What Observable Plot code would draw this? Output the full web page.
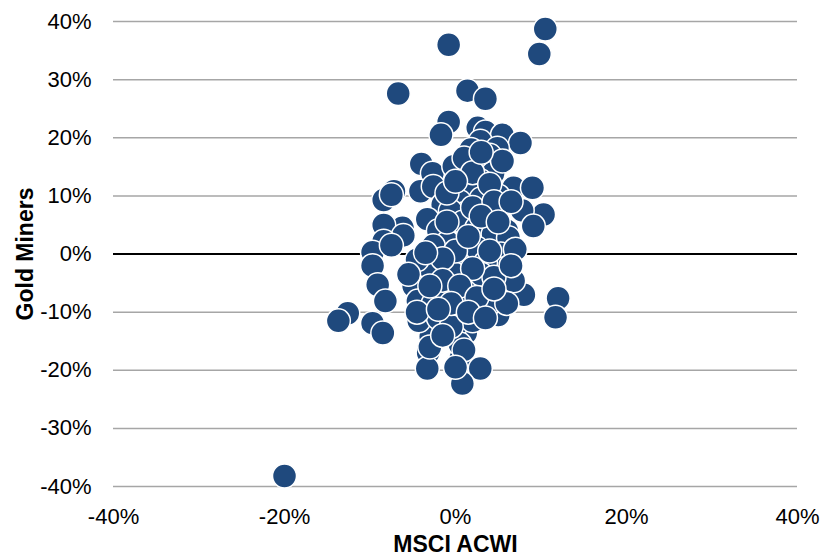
<!DOCTYPE html>
<html>
<head>
<meta charset="utf-8">
<script src="https://cdn.jsdelivr.net/npm/d3@7"></script>
<script src="https://cdn.jsdelivr.net/npm/@observablehq/plot@0.6"></script>
<style>
  body { margin: 0; background: #fff; }
  #chart { width: 827px; height: 556px; }
  g[aria-label="x-axis label"] text, g[aria-label="y-axis label"] text { font-weight: bold; font-size: 23px; }
</style>
</head>
<body>
<div id="chart"></div>
<script>
// MSCI ACWI monthly return (%)
const msciAcwi = [
  10.5, 9.8, -0.8, -6.7, 1.4, 3.5,
  -0.8, -1.7, 2.6, 3.5, 5.5, 7.6, 2.9, 4.9, 1.8, 4.0,
  -4.0, -2.7, -0.2, 3.3, 4.4, 2.9, 1.4, -7.2, -8.4, -4.1, -2.6, 6.8, 9.0, -7.5, 3.0, 5.0, 0.5, -1.5,
  10.3, 7.8, 4.9, 0.9, 4.1, -3.3, -6.2, -8.4, -0.6, 9.1, 0.9, 2.5, 6.0, -2.0, 3.5,
  4.4, 6.2, -0.9, -2.6, -6.1, -8.4, -9.7, -9.7, -7.5, 1.4, 5.3, 5.6, -0.2, -2.9, 2.5, 0.0, -4.5, 3.5, 7.0, -1.5, -3.5,
  -9.1, -4.9, 2.1, 3.7, 8.0, 6.8, -8.2, -4.4, -2.6, 0.4, 5.0, -12.6, -13.7, -9.7, -8.5, -2.9, 1.2, -4.3, 0.2, -3.2, 0.6, -3.3, 2.9, 0.8, 12.0, 11.7, -20.0,
  -1.0, 1.5, 4.0, -2.0, 2.0, -3.0, 0.5, -4.5, 6.0, 3.0, -1.5, 4.5, -0.5, 1.0,
  1.0, 2.0, 4.0, 5.5, 3.0, 2.0, 4.5, -1.0, 0.0, 6.5, 1.5, 3.0, 5.0, -1.0,
  2.0, 4.0, 0.5, -3.0, 2.5, -0.5, -2.0, 1.5, 3.5, -1.5, 0.0, 4.5, 6.5, -5.5
];
// Gold Miners monthly return (%)
const goldMiners = [
  38.7, 34.4, 36.0, 27.6, 28.1, 26.7,
  22.7, 20.5, 21.7, 21.0, 20.5, 19.1, 19.4, 18.2, 18.0, 17.0,
  15.5, 13.9, 15.1, 15.1, 13.9, 12.6, 10.8, 10.8, 9.3, 10.8, 11.6, 11.4, 11.4, 10.2, 9.5, 10.0, 9.0, 8.5,
  6.8, 7.5, 7.9, 6.9, 6.2, 6.0, 4.5, 5.0, 7.4, 4.8, 5.5, 4.5, 4.0, 4.0, 3.0,
  3.4, 2.8, 2.0, 1.4, 3.2, 2.2, 0.3, -2.0, 1.5, -0.5, 0.0, -2.6, -3.4, -2.6, 1.0, 0.5, -1.0, -1.5, 0.8, -0.8, 0.2,
  -5.3, -5.5, -5.3, -6.9, -7.0, -4.6, -8.1, -8.1, -8.5, -9.8, -10.5, -10.2, -11.5, -11.9, -13.6, -14.2, -13.6, -11.5, -12.0, -17.0, -18.0, -19.7, -19.7, -22.3, -7.6, -10.9, -38.2,
  -6.5, -8.0, -8.5, -11.0, -11.5, -16.0, -15.5, -10.0, -8.5, -3.5, -4.5, -4.0, -12.5, -16.5,
  16.5, 14.0, 12.0, 16.0, 17.5, 8.0, 9.0, 10.5, 12.5, 9.0, 3.0, 6.5, 5.5, 5.5,
  -2.5, 0.5, -5.5, -5.5, -7.5, -8.5, -9.5, -10.0, -11.0, -14.0, -19.5, -6.0, -2.0, -3.5
];
const xTicks = [-40, -20, 0, 20, 40];
const yTicks = [-40, -30, -20, -10, 0, 10, 20, 30, 40];

const data = msciAcwi.map((x, i) => ({x, y: goldMiners[i]}));
const pct = d => d + "%";

const chart = Plot.plot({
  width: 827,
  height: 556,
  marginLeft: 113,
  marginRight: 30,
  marginTop: 21,
  marginBottom: 70,
  style: {fontFamily: "'Liberation Sans', Arial, sans-serif", fontSize: "22px", color: "#000", background: "#fff"},
  x: {domain: [-40, 40], ticks: xTicks, tickFormat: pct, tickSize: 0, tickPadding: 22, label: "MSCI ACWI", labelArrow: "none", labelAnchor: "center", labelOffset: 65},
  y: {domain: [-40, 40], ticks: yTicks, tickFormat: pct, tickSize: 0, tickPadding: 22, label: "Gold Miners", labelArrow: "none", labelAnchor: "center", labelOffset: 97},
  marks: [
    Plot.ruleY(yTicks.filter(d => d !== 0), {stroke: "#a6a6a6", strokeWidth: 1.5}),
    Plot.ruleY([0], {stroke: "#000", strokeWidth: 2}),
    Plot.dot(data, {x: "x", y: "y", r: 12, fill: "#1f497d", stroke: "#fff", strokeWidth: 1.5})
  ]
});
// strip any arrow glyphs from axis labels
chart.querySelectorAll('g[aria-label$="axis label"] text').forEach(t => {
  t.textContent = t.textContent.replace(/[\u2190-\u2193]/g, "").trim();
});
document.getElementById("chart").appendChild(chart);
</script>
</body>
</html>
